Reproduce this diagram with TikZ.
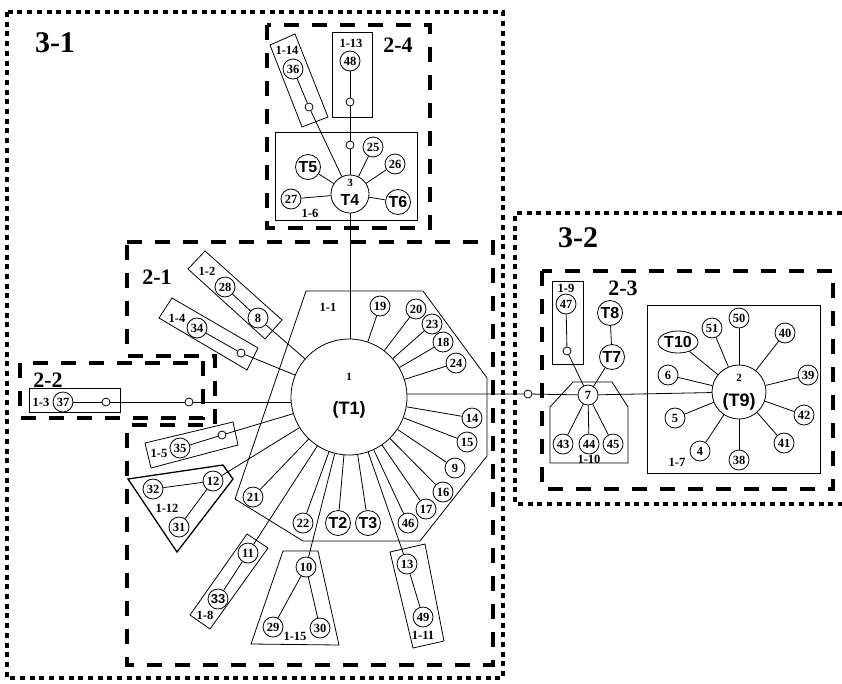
\documentclass[tikz,border=0pt]{standalone}
\usepackage{fontspec}
\usetikzlibrary{shapes.geometric}
\setmainfont{Liberation Serif}
\newfontfamily\arialfam{Liberation Sans}

\newcommand*{\numfont}{\fontsize{12.5}{12.5}\selectfont\bfseries}
\newcommand*{\tfont}{\arialfam\fontsize{16}{16}\selectfont\bfseries}
\newcommand*{\hubfont}{\arialfam\fontsize{18}{18}\selectfont\bfseries}
\newcommand*{\grpfont}{\fontsize{12.5}{12.5}\selectfont\bfseries}
\newcommand*{\zonefont}{\fontsize{22}{22}\selectfont\bfseries}
\newcommand*{\areafont}{\fontsize{30}{30}\selectfont\bfseries}

\begin{document}
\begin{tikzpicture}
[
	x=1pt,y=-1pt,
	num/.style={circle,draw,line width=0.8pt,inner sep=0pt,minimum size=20pt,font=\numfont},
	tnum/.style={circle,draw,line width=0.8pt,inner sep=0pt,minimum size=25pt,font=\tfont},
	hub/.style={circle,draw,line width=0.8pt,inner sep=0pt},
	joint/.style={circle,draw,line width=0.8pt,fill=white,inner sep=0pt,minimum size=8pt},
	grp/.style={inner sep=0pt,font=\grpfont},
	box/.style={draw,line width=0.8pt},
	link/.style={line width=0.8pt},
	zone/.style={draw,line width=4pt,dash pattern=on 15pt off 13pt},
	area/.style={draw,line width=4.5pt,dash pattern=on 5pt off 4.7pt}
]
	\useasboundingbox (0,0) rectangle (842,683);

	% areas and zones
	\draw[area] (7,12) rectangle (503,678);
	\draw[area] (842,213) -- (515,213) -- (515,504) -- (842,504);
	\draw[zone] (267,25) rectangle (430,228);
	\draw[zone] (542,271) rectangle (833,489);
	\draw[zone] (20,363) rectangle (203,418);
	\draw[zone] (127,242) -- (493,242) -- (493,665) -- (127,665) -- (127,425)
		-- (215,425) -- (215,356) -- (127,356) -- cycle;
	\node[font=\areafont] (a31) at (55,43) {3-1};
	\node[font=\areafont] (a32) at (578,238) {3-2};
	\node[font=\zonefont] (z21) at (157,277) {2-1};
	\node[font=\zonefont] (z22) at (48,380) {2-2};
	\node[font=\zonefont] (z23) at (623,288) {2-3};
	\node[font=\zonefont] (z24) at (398,45) {2-4};

	% group outlines
	\draw[box] (306,291) -- (423,291) -- (487,378) -- (487,456) -- (420,541)
		-- (303,541) -- (235,499) -- cycle;
	\draw[box] (29,388) rectangle (120,412);
	\draw[box] (188,269) -- (205,251) -- (282,320) -- (265,339) -- cycle;
	\draw[box] (159,318) -- (172,298) -- (258,348) -- (247,370) -- cycle;
	\draw[box] (145,443) -- (233,422) -- (238,445) -- (151,468) -- cycle;
	\draw[box,line width=1.3pt] (128,479) -- (223,465) -- (233,479) -- (177,552) -- cycle;
	\draw[box] (190,615) -- (247,534) -- (268,548) -- (210,629) -- cycle;
	\draw[box] (283,551) -- (318,551) -- (339,645) -- (251,644) -- cycle;
	\draw[box] (390,552) -- (425,544) -- (444,641) -- (413,648) -- cycle;
	\draw[box] (275,132) rectangle (417,220);
	\draw[box] (332,32) rectangle (372,117);
	\draw[box] (270,45) -- (295,34) -- (328,117) -- (302,127) -- cycle;
	\draw[box] (552,281) rectangle (583,364);
	\draw[box] (573,382) -- (612,382) -- (628,407) -- (628,463) -- (550,463)
		-- (550,407) -- cycle;
	\draw[box] (647,305) rectangle (820,473);

	% group labels
	\node[grp] (g11) at (328,307) {1-1};
	\node[grp] (g12) at (207,271) {1-2};
	\node[grp] (g13) at (41,402) {1-3};
	\node[grp] (g14) at (177,318) {1-4};
	\node[grp] (g15) at (159,453) {1-5};
	\node[grp] (g16) at (310,213) {1-6};
	\node[grp] (g17) at (677,462) {1-7};
	\node[grp] (g18) at (205,615) {1-8};
	\node[grp] (g19) at (566,288) {1-9};
	\node[grp] (g110) at (589,459) {1-10};
	\node[grp] (g111) at (423,635) {1-11};
	\node[grp] (g112) at (167,508) {1-12};
	\node[grp] (g113) at (351,43) {1-13};
	\node[grp] (g114) at (287,50) {1-14};
	\node[grp] (g115) at (295,636) {1-15};

	% hub 1
	\node[hub,minimum size=116pt] (T1) at (349,397) {};
	\node[grp,font=\fontsize{11}{11}\selectfont\bfseries] (T1num) at (349,377) {1};
	\node[font=\hubfont] (T1txt) at (349,410) {(T1)};
	\foreach \n/\x/\y in {19/380/306,20/416/309,23/432/324,18/443/342,24/456/363,
		14/472/418,15/467/442,9/455/468,16/443/492,17/426/509,46/408/523,
		22/303/523,21/253/497}
		\node[num] (n\n) at (\x,\y) {\n};
	\node[tnum] (nT2) at (338,523) {T2};
	\node[tnum] (nT3) at (368,523) {T3};
	\foreach \n in {19,20,23,18,24,14,15,9,16,17,46,T3,T2,22,21}
		\draw[link] (T1) -- (n\n);

	% chains round hub 1
	\node[num] (n37) at (63,402) {37};
	\node[joint] (jA) at (106,402) {};
	\node[joint] (jB) at (189,402) {};
	\draw[link] (n37) -- (jA) -- (jB) -- (jB -| T1.west);
	\node[num] (n28) at (225,287) {28};
	\node[num] (n8) at (258,318) {8};
	\draw[link] (n28) -- (n8) -- (T1);
	\node[num] (n34) at (197,328) {34};
	\node[joint] (jC) at (241,353) {};
	\draw[link] (n34) -- (jC) -- (T1);
	\node[num] (n35) at (180,448) {35};
	\node[joint] (jD) at (222,435) {};
	\draw[link] (n35) -- (jD) -- (T1);
	\node[num] (n32) at (153,489) {32};
	\node[num] (n12) at (213,481) {12};
	\node[num] (n31) at (179,527) {31};
	\draw[link] (n32) -- (n12) -- (n31);
	\draw[link] (n12) -- (T1);
	\node[num] (n11) at (248,553) {11};
	\node[num,font=\arialfam\fontsize{13}{13}\selectfont\bfseries] (n33) at (218,599) {33};
	\draw[link] (n33) -- (n11) -- (T1);
	\node[num] (n10) at (306,567) {10};
	\node[num] (n29) at (273,627) {29};
	\node[num] (n30) at (320,628) {30};
	\draw[link] (n29) -- (n10) -- (n30);
	\draw[link] (n10) -- (T1);
	\node[num] (n13) at (407,564) {13};
	\node[num] (n49) at (423,617) {49};
	\draw[link] (n49) -- (n13) -- (T1);

	% hub 3
	\node[hub,minimum size=38pt] (T4) at (350,194) {};
	\node[grp,font=\fontsize{11}{11}\selectfont\bfseries] (T4num) at (350,183) {3};
	\node[font=\tfont,inner sep=0pt] (T4txt) at (350,200) {T4};
	\draw[link] (T4.south) -- (T4.south |- T1.north);
	\node[tnum] (nT5) at (308,167) {T5};
	\node[tnum] (nT6) at (398,202) {T6};
	\node[num] (n27) at (291,199) {27};
	\node[num] (n25) at (373,147) {25};
	\node[num] (n26) at (395,164) {26};
	\foreach \n in {T5,T6,27,25,26}
		\draw[link] (T4) -- (n\n);
	\node[joint] (jF) at (350,145) {};
	\node[joint] (jG) at (350,102) {};
	\node[num] (n48) at (350,61) {48};
	\draw[link] (T4) -- (jF) -- (jG) -- (n48);
	\node[num] (n36) at (293,69) {36};
	\node[joint] (jH) at (309,107) {};
	\draw[link] (n36) -- (jH) -- (T4);

	% link to the right
	\node[joint] (jR) at (528,394) {};
	\node[num] (n7) at (588,395) {7};
	\node[hub,minimum size=54pt] (T9) at (739,392) {};
	\node[grp,font=\fontsize{11}{11}\selectfont\bfseries] (T9num) at (739,378) {2};
	\node[font=\hubfont,inner sep=0pt] (T9txt) at (739,402) {(T9)};
	\draw[link] (jR -| T1.east) -- (jR) -- (n7) -- (T9);

	% hub 7
	\node[num] (n47) at (566,304) {47};
	\node[joint] (jE) at (567,351) {};
	\draw[link] (n47) -- (jE) -- (n7);
	\node[tnum] (nT8) at (610,313) {T8};
	\node[tnum] (nT7) at (612,357) {T7};
	\draw[link] (nT8) -- (nT7) -- (n7);
	\foreach \n/\x in {43/563,44/589,45/613}
	{
		\node[num] (n\n) at (\x,444) {\n};
		\draw[link] (n7) -- (n\n);
	}

	% hub 2
	\node[ellipse,draw,line width=0.8pt,inner sep=0pt,minimum width=40pt,minimum height=22pt,font=\tfont] (nT10) at (678,342) {T10};
	\foreach \n/\x/\y in {50/739/318,51/712/328,40/785/333,39/808/375,42/804/415,
		41/784/443,38/739/460,4/700/451,5/675/418,6/668/375}
		\node[num] (n\n) at (\x,\y) {\n};
	\foreach \n in {50,51,T10,40,39,42,41,38,4,5,6}
		\draw[link] (T9) -- (n\n);

\end{tikzpicture}
\end{document}
